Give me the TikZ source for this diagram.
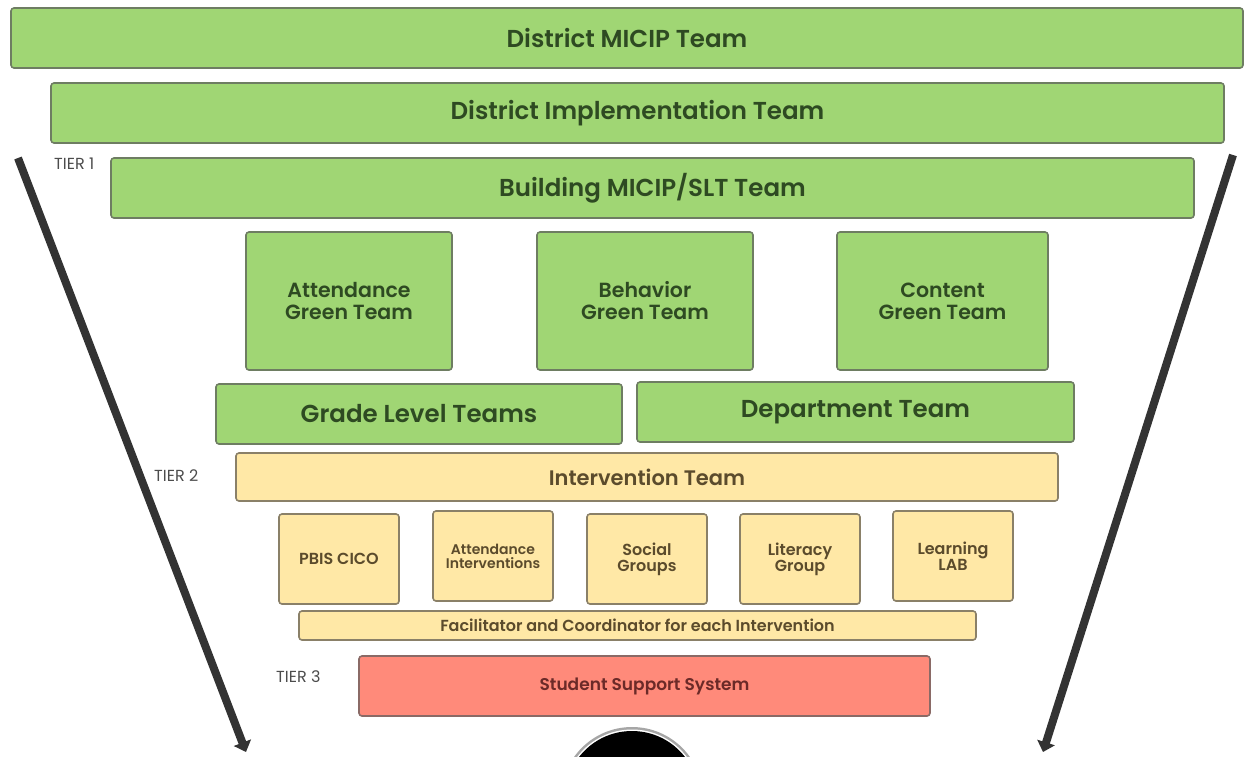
\documentclass[tikz,border=0pt]{standalone}
\usepackage{fontspec}
\setmainfont{Poppins}[BoldFont={Poppins SemiBold}]
\usetikzlibrary{arrows.meta}
\definecolor{gfill}{HTML}{A0D674}
\definecolor{gline}{HTML}{6E7D62}
\definecolor{gtext}{HTML}{2E4A22}
\definecolor{yfill}{HTML}{FFE8A6}
\definecolor{yline}{HTML}{8A8068}
\definecolor{ytext}{HTML}{5B4B2C}
\definecolor{rfill}{HTML}{FF8A7A}
\definecolor{rline}{HTML}{8A6A66}
\definecolor{rtext}{HTML}{6B2A28}
\definecolor{arr}{HTML}{333333}
\tikzset{
  gbox/.style={draw=gline, fill=gfill, line width=1.6pt, rounded corners=3pt, text=gtext, align=center, inner sep=0pt},
  ybox/.style={draw=yline, fill=yfill, line width=1.6pt, rounded corners=3pt, text=ytext, align=center, inner sep=0pt},
  rbox/.style={draw=rline, fill=rfill, line width=1.6pt, rounded corners=3pt, text=rtext, align=center, inner sep=0pt},
  tier/.style={text=black!70, font=\fontsize{16}{18}\selectfont, inner sep=0pt},
  bigarrow/.style={draw=arr, line width=8pt, -{Triangle[length=10pt,width=18pt]}},
  big/.style={font=\bfseries\fontsize{24.5}{26}\selectfont},
  mid/.style={font=\bfseries\fontsize{20.5}{22}\selectfont},
}
\newcommand{\bx}[7]{% style, name, x1, y1, x2, y2, text
  \node[#1, minimum width={#5-#3}, minimum height={#6-#4}] (#2) at ({(#3+#5)/2},{(#4+#6)/2}) {#7};}
\begin{document}
\begin{tikzpicture}[x=1pt,y=-1pt]
\useasboundingbox (0,0) rectangle (1254,756);
\begin{scope}
\clip (0,0) rectangle (1254,756);
\fill[gray!70] (632,798) circle (71);
\fill[white] (632,798) circle (68.5);
\fill[black] (632,798) circle (67);
\end{scope}
\bx{gbox,big}{micip}{11}{8}{1243}{68}{District MICIP Team}
\bx{gbox,big}{impl}{51}{83}{1224}{143}{District Implementation Team}
\bx{gbox,big}{slt}{111}{158}{1194}{218}{Building MICIP/SLT Team}
\bx{gbox,mid}{att}{246}{232}{452}{370}{Attendance\\Green Team}
\bx{gbox,mid}{beh}{537}{232}{753}{370}{Behavior\\Green Team}
\bx{gbox,mid}{con}{837}{232}{1048}{370}{Content\\Green Team}
\bx{gbox,big}{grade}{216}{384}{622}{444}{Grade Level Teams}
\bx{gbox,big}{dept}{637}{382}{1074}{442}{Department Team}
\bx{ybox,font=\bfseries\fontsize{21}{23}\selectfont}{inter}{236}{453}{1058}{501}{Intervention Team}
\bx{ybox,font=\bfseries\fontsize{16}{17}\selectfont}{pbis}{279}{514}{399}{604}{PBIS CICO}
\bx{ybox,font=\bfseries\fontsize{14}{14}\selectfont}{attint}{433}{511}{553}{601}{Attendance\\Interventions}
\bx{ybox,font=\bfseries\fontsize{16}{16}\selectfont}{social}{587}{514}{707}{604}{Social\\Groups}
\bx{ybox,font=\bfseries\fontsize{16}{16}\selectfont}{lit}{740}{514}{860}{604}{Literacy\\Group}
\bx{ybox,font=\bfseries\fontsize{16}{16}\selectfont}{lab}{893}{511}{1013}{601}{Learning\\LAB}
\bx{ybox,font=\bfseries\fontsize{16}{17}\selectfont}{fac}{299}{611}{976}{640}{Facilitator and Coordinator for each Intervention}
\bx{rbox,font=\bfseries\fontsize{17}{19}\selectfont}{sss}{359}{656}{930}{716}{Student Support System}
\node[tier, anchor=west] (t1) at (54,164) {TIER 1};
\node[tier, anchor=west] (t2) at (154,476) {TIER 2};
\node[tier, anchor=west] (t3) at (276,677) {TIER 3};
\coordinate (la) at (18,158);
\coordinate (lb) at (246,752);
\coordinate (ra) at (1233,155);
\coordinate (rb) at (1043,752);
\draw[bigarrow] (la) -- (lb);
\draw[bigarrow] (ra) -- (rb);
\end{tikzpicture}
\end{document}
